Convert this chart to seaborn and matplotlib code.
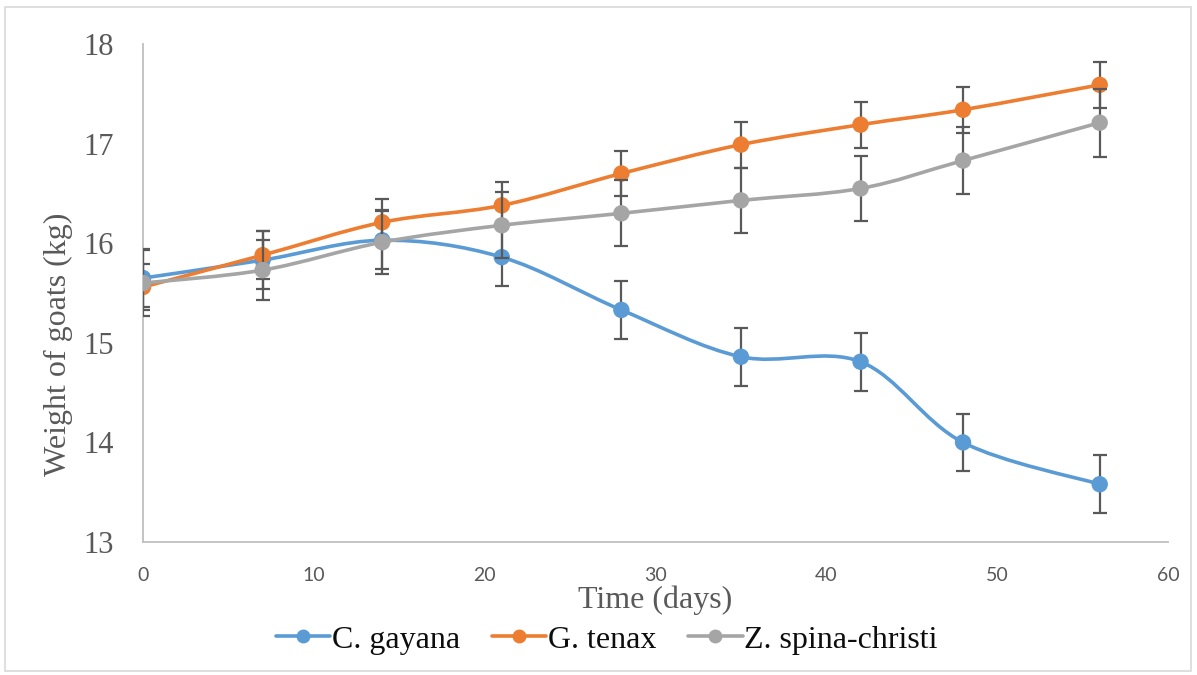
import matplotlib
matplotlib.use('Agg')
import matplotlib.pyplot as plt
from matplotlib.path import Path
from matplotlib.patches import PathPatch, Rectangle
from matplotlib.lines import Line2D
import seaborn as sns

# data
days = [0, 7, 14, 21, 28, 35, 42, 48, 56]
series_names = ['C. gayana', 'G. tenax', 'Z. spina-christi']
c_gayana = [15.65, 15.83, 16.03, 15.86, 15.33, 14.86, 14.81, 14.00, 13.58]
g_tenax = [15.56, 15.88, 16.21, 16.38, 16.70, 16.99, 17.19, 17.34, 17.59]
z_spina = [15.60, 15.73, 16.01, 16.18, 16.30, 16.43, 16.55, 16.83, 17.21]
c_gayana_err = [0.29, 0.29, 0.29, 0.29, 0.29, 0.29, 0.29, 0.29, 0.29]
g_tenax_err = [0.23, 0.24, 0.23, 0.23, 0.23, 0.23, 0.23, 0.23, 0.23]
z_spina_err = [0.33, 0.30, 0.32, 0.33, 0.33, 0.33, 0.33, 0.34, 0.34]

colors = ['#5B9BD5', '#ED7D31', '#A5A5A5']
err_color = '#595959'

sns.set_style('white')
plt.rcParams['font.family'] = ['Liberation Serif', 'DejaVu Serif']


def smooth_path(xs, ys):
    """Excel-like smoothed line as cubic Bezier segments (Catmull-Rom)."""
    pts = list(zip(xs, ys))
    verts = [pts[0]]
    codes = [Path.MOVETO]
    n = len(pts)
    for i in range(n - 1):
        p0 = pts[i - 1] if i > 0 else pts[i]
        p1 = pts[i]
        p2 = pts[i + 1]
        p3 = pts[i + 2] if i + 2 < n else pts[i + 1]
        c1 = (p1[0] + (p2[0] - p0[0]) / 6, p1[1] + (p2[1] - p0[1]) / 6)
        c2 = (p2[0] - (p3[0] - p1[0]) / 6, p2[1] - (p3[1] - p1[1]) / 6)
        verts += [c1, c2, p2]
        codes += [Path.CURVE4] * 3
    return Path(verts, codes)


fig = plt.figure(figsize=(11.97, 6.75), dpi=100)
ax = fig.add_axes([0.1195, 0.197, 0.8563, 0.7378])

all_vals = [c_gayana, g_tenax, z_spina]
all_errs = [c_gayana_err, g_tenax_err, z_spina_err]
for k, (name, vals, errs, col) in enumerate(zip(series_names, all_vals, all_errs, colors)):
    z = 3 + k * 3
    ax.add_patch(PathPatch(smooth_path(days, vals), facecolor='none', edgecolor=col,
                           lw=2.6, zorder=z, capstyle='round'))
    ax.errorbar(days, vals, yerr=errs, fmt='none', ecolor=err_color, elinewidth=1.6,
                capsize=5, capthick=1.6, zorder=z + 1)
    sns.scatterplot(x=days, y=vals, color=col, s=140, edgecolor='none', ax=ax,
                    zorder=z + 2, legend=False)

ax.set_xlim(0, 60)
ax.set_ylim(13, 18)
ax.set_xticks([0, 10, 20, 30, 40, 50, 60])
ax.set_yticks([13, 14, 15, 16, 17, 18])
for s in ['top', 'right']:
    ax.spines[s].set_visible(False)
for s in ['left', 'bottom']:
    ax.spines[s].set_color('#BFBFBF')
    ax.spines[s].set_linewidth(1.3)
ax.tick_params(axis='y', length=0, pad=21, labelsize=22, labelcolor='#595959')
ax.tick_params(axis='x', length=0, pad=18, labelsize=14, labelcolor='#595959')
for lab in ax.get_xticklabels():
    lab.set_family(['Lato', 'DejaVu Sans'])

ax.set_xlabel('Time (days)', fontsize=23, color='#595959')
ax.xaxis.set_label_coords(0.5, -0.088)
ax.set_ylabel('Weight of goats (kg)', fontsize=23, color='#595959')
ax.yaxis.set_label_coords(-0.068, 0.398)

handles = [Line2D([0], [0], color=c, lw=2.6, marker='o', markersize=9) for c in colors]
fig.legend(handles, series_names, loc='center', bbox_to_anchor=(0.507, 0.052), ncol=3,
           frameon=False, fontsize=23, handlelength=1.7, handletextpad=0.05,
           columnspacing=1.0, labelcolor='#0D0D0D')

fig.patches.append(Rectangle((0.004, 0.006), 0.991, 0.983, transform=fig.transFigure,
                             fill=False, edgecolor='#D9D9D9', lw=1.2))

fig.savefig('out.png', dpi=100)
